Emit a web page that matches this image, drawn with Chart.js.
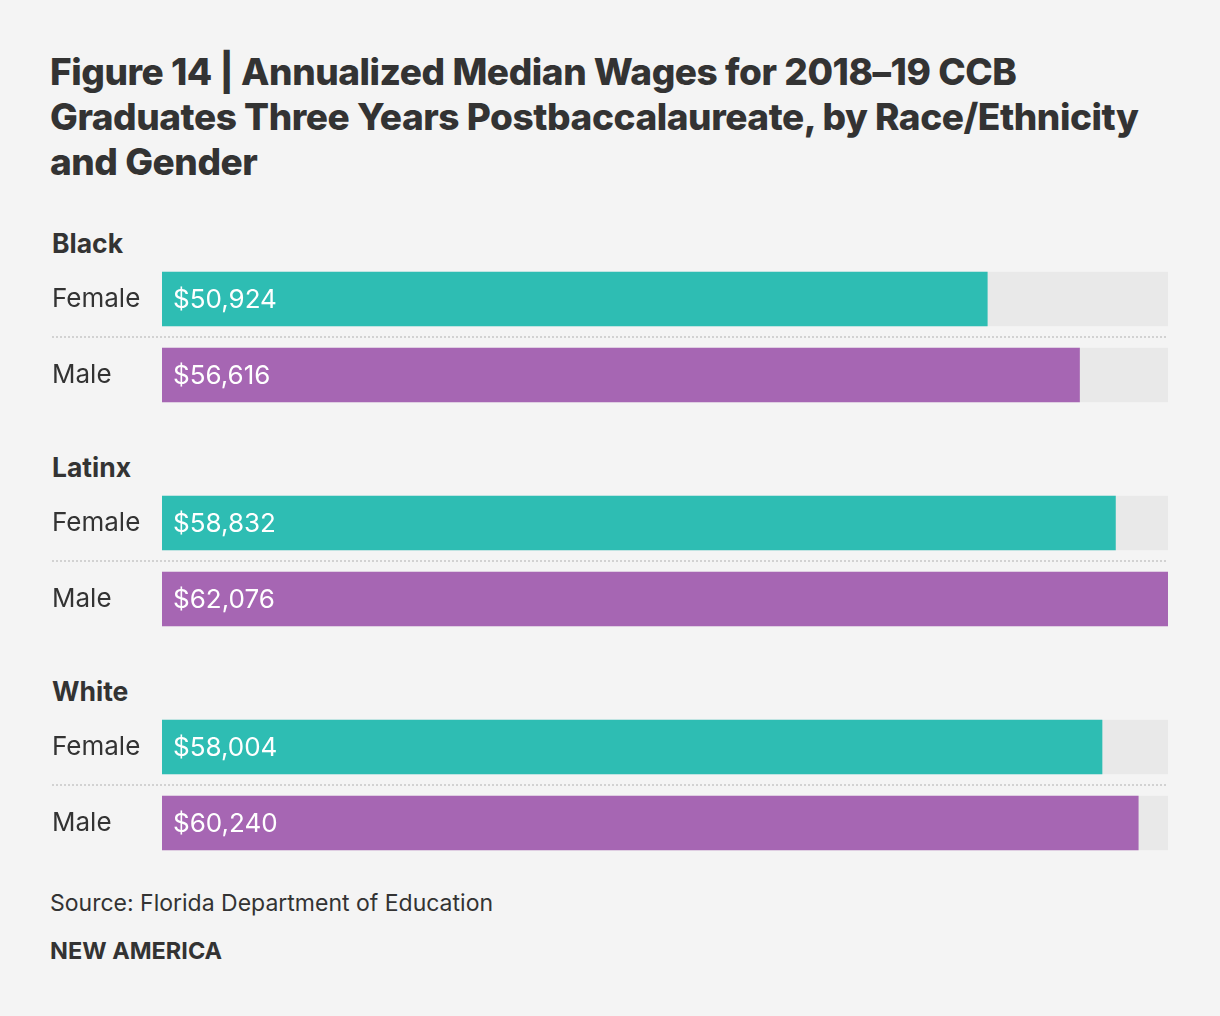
<!DOCTYPE html>
<html>
<head>
<meta charset="utf-8">
<script src="https://cdn.jsdelivr.net/npm/chart.js@4"></script>
<style>
  body { margin: 0; background: #f4f4f4; width: 1220px; height: 1016px; position: relative; font-family: Inter, "Noto Sans", sans-serif; color: #333; }
  h1 { position: absolute; left: 50px; top: 49px; margin: 0; width: 1150px; font-size: 37px; line-height: 45px; font-weight: 800; letter-spacing: -0.45px; white-space: nowrap; }
  .grp { position: absolute; left: 52px; font-size: 26.5px; font-weight: 700; }
  .box { position: absolute; left: 52px; width: 1116px; height: 152px; }
  .src { position: absolute; left: 50px; top: 889px; font-size: 23px; }
  .brand { position: absolute; left: 50px; top: 936px; font-size: 23.5px; font-weight: 700; }
</style>
</head>
<body>
<h1>Figure 14 | Annualized Median Wages for 2018–19 CCB<br>Graduates Three Years Postbaccalaureate, by Race/Ethnicity<br>and Gender</h1>
<div id="wrap"></div>
<div class="src">Source: Florida Department of Education</div>
<div class="brand">NEW AMERICA</div>
<script>
// dados
const groups = ['Black', 'Latinx', 'White'];
const genders = ['Female', 'Male'];
const female = [50924, 58832, 58004];
const male = [56616, 62076, 60240];
const maxWage = 62076;

const colors = ['#2ebdb3', '#a666b3'];

// rótulos dentro das barras + linha pontilhada entre as linhas
const innerLabels = {
    id: 'innerLabels',
    beforeDatasetsDraw(chart) {
        const ctx = chart.ctx;
        const y = chart.scales.y;
        const mid = (y.getPixelForValue(0) + y.getPixelForValue(1)) / 2;
        ctx.save();
        ctx.strokeStyle = '#d2d2d2';
        ctx.lineWidth = 2;
        ctx.setLineDash([2, 2]);
        ctx.beginPath();
        ctx.moveTo(0, mid);
        ctx.lineTo(chart.width, mid);
        ctx.stroke();
        ctx.restore();
    },
    afterDatasetsDraw(chart) {
        const ctx = chart.ctx;
        const meta = chart.getDatasetMeta(1);
        ctx.save();
        ctx.fillStyle = '#fff';
        ctx.font = '400 26px Inter, sans-serif';
        ctx.textBaseline = 'middle';
        meta.data.forEach((bar, i) => {
            const v = chart.data.datasets[1].data[i];
            ctx.fillText('$' + v.toLocaleString('en-US'), bar.base + 11, bar.y + 1);
        });
        ctx.restore();
    }
};

const wrap = document.getElementById('wrap');
groups.forEach((g, i) => {
    const top = 227 + i * 224;
    const h = document.createElement('div');
    h.className = 'grp';
    h.style.top = top + 'px';
    h.textContent = g;
    wrap.appendChild(h);

    const box = document.createElement('div');
    box.className = 'box';
    box.style.top = (261 + i * 224) + 'px';
    const cv = document.createElement('canvas');
    box.appendChild(cv);
    wrap.appendChild(box);

    new Chart(cv.getContext('2d'), {
        type: 'bar',
        data: {
            labels: genders,
            datasets: [
                {
                    label: 'track',
                    data: genders.map(() => maxWage),
                    backgroundColor: '#e9e9e9',
                    barThickness: 54,
                    order: 2
                },
                {
                    label: g,
                    data: [female[i], male[i]],
                    backgroundColor: colors,
                    barThickness: 54,
                    order: 1
                }
            ]
        },
        options: {
            indexAxis: 'y',
            responsive: true,
            maintainAspectRatio: false,
            animation: false,
            layout: { padding: 0 },
            plugins: { legend: { display: false }, tooltip: { enabled: false } },
            scales: {
                x: { display: false, min: 0, max: maxWage, stacked: false },
                y: {
                    stacked: true,
                    border: { display: false },
                    grid: { display: false },
                    afterFit(scale) {
                        scale.width = 110;
                        scale.paddingTop = 0;
                        scale.paddingBottom = 0;
                    },
                    ticks: {
                        crossAlign: 'far',
                        padding: 0,
                        color: '#333',
                        font: { family: 'Inter, sans-serif', size: 26 }
                    }
                }
            }
        },
        plugins: [innerLabels]
    });
});
</script>
</body>
</html>
